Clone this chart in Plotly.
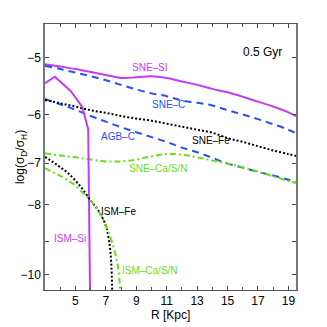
import math

import plotly.graph_objects as go

# values: R [Kpc] and log(sigma_D/sigma_H)
R_FULL = [3, 4, 5, 6, 7, 8, 9, 10, 11, 12, 13, 14, 15, 16, 17, 18, 19, 19.5]
SNE_SI = [-5.10, -5.14, -5.18, -5.23, -5.28, -5.33, -5.32, -5.30, -5.33, -5.39,
          -5.45, -5.52, -5.58, -5.66, -5.75, -5.84, -5.95, -6.02]
SNE_C = [-5.13, -5.18, -5.24, -5.30, -5.37, -5.45, -5.53, -5.60, -5.65, -5.73,
         -5.77, -5.82, -5.91, -5.99, -6.08, -6.18, -6.29, -6.36]
AGB_C = [-5.70, -5.80, -5.90, -6.02, -6.13, -6.24, -6.34, -6.44, -6.54, -6.66,
         -6.76, -6.88, -7.01, -7.10, -7.20, -7.28, -7.38, -7.43]
SNE_FE = [-5.72, -5.78, -5.84, -5.91, -5.96, -6.02, -6.07, -6.11, -6.17, -6.23,
          -6.29, -6.35, -6.46, -6.54, -6.63, -6.72, -6.80, -6.84]
SNE_CA = [-6.78, -6.83, -6.87, -6.92, -6.96, -6.96, -6.92, -6.85, -6.80, -6.81,
          -6.87, -6.94, -7.01, -7.09, -7.19, -7.30, -7.41, -7.46]

R_ISM_SI = [3, 3.65, 4.7, 5.45, 5.84, 5.89, 5.93, 5.97]
ISM_SI = [-5.42, -5.31, -5.56, -5.85, -6.28, -7.5, -9.0, -11.0]

R_ISM_FE = [3, 3.5, 4, 4.5, 5, 5.5, 6, 6.5, 7, 7.25, 7.35, 7.42]
ISM_FE = [-6.86, -6.97, -7.09, -7.22, -7.40, -7.62, -7.89, -8.14, -8.55, -9.1, -9.6, -10.6]

R_ISM_CA = [3, 3.5, 4, 4.5, 5, 5.5, 6, 6.5, 7, 7.5, 7.8, 7.95]
ISM_CA = [-7.11, -7.20, -7.29, -7.39, -7.52, -7.70, -7.89, -8.15, -8.55, -9.15, -9.75, -10.6]

Y_TICKS = [-5, -6, -7, -8, -9, -10]
Y_TICK_TEXT = ["\u22125", "\u22126", "\u22127", "\u22128", "", "\u221210"]
X_TICKS = [5, 7, 9, 11, 13, 15, 17, 19]

MAGENTA = "#c43cf2"
BLUE = "#2850f5"
GREEN = "#6ade14"
BLACK = "#000000"


def neg(vals):
    # the y axis is logarithmic in -log(sigma_D/sigma_H)
    return [-v for v in vals]


fig = go.Figure()

series = [
    (R_FULL, SNE_SI, MAGENTA, "solid", "spline"),
    (R_FULL, SNE_C, BLUE, "7px,5px", "spline"),
    (R_FULL, AGB_C, BLUE, "7px,5px", "spline"),
    (R_FULL, SNE_FE, BLACK, "2px,2px", "spline"),
    (R_FULL, SNE_CA, GREEN, "6px,3px,2px,3px", "spline"),
    (R_ISM_SI, ISM_SI, MAGENTA, "solid", "linear"),
    (R_ISM_FE, ISM_FE, BLACK, "2px,2px", "spline"),
    (R_ISM_CA, ISM_CA, GREEN, "6px,3px,2px,3px", "spline"),
]
for xs, ys, color, dash, shape in series:
    fig.add_trace(go.Scatter(
        x=xs, y=neg(ys), mode="lines",
        line=dict(color=color, width=2, dash=dash, shape=shape),
        showlegend=False,
    ))

labels = [
    ("0.5 Gyr", 17.3, -4.91, BLACK, 12),
    ("SNE\u2013SI", 9.9, -5.16, MAGENTA, 10),
    ("SNE\u2013C", 11.1, -5.81, BLUE, 10),
    ("AGB\u2013C", 7.8, -6.42, BLUE, 10),
    ("SNE\u2013Fe", 13.9, -6.52, BLACK, 10),
    ("SNE\u2013Ca/S/N", 10.4, -7.11, GREEN, 10),
    ("ISM\u2013Fe", 7.8, -8.18, BLACK, 10),
    ("ISM\u2013Si", 4.65, -8.92, MAGENTA, 10),
    ("ISM\u2013Ca/S/N", 9.9, -9.88, GREEN, 10),
]
annotations = [
    dict(text=t, x=x, y=math.log10(-y), xref="x", yref="y", showarrow=False,
         font=dict(color=c, size=s))
    for t, x, y, c, s in labels
]
# axis titles
annotations.append(dict(text="R [Kpc]", x=0.5, y=-0.06, xref="paper", yref="paper",
                        yanchor="top", showarrow=False, font=dict(size=12)))
annotations.append(dict(text="log(\u03c3<sub>D</sub>/\u03c3<sub>H</sub>)", x=-0.135, y=0.5,
                        xref="paper", yref="paper", textangle=-90, showarrow=False,
                        font=dict(size=12)))
# clipped label peeking in at the bottom edge
annotations.append(dict(text="ISM\u2013Ca/S/N", x=0.26, y=-0.13, xref="paper", yref="paper",
                        yanchor="top", showarrow=False, font=dict(color=GREEN, size=10)))

fig.update_layout(
    width=327, height=327,
    margin=dict(l=45, r=31, t=24, b=37),
    plot_bgcolor="white", paper_bgcolor="white",
    font=dict(family="Liberation Sans, Arial, sans-serif", color="black", size=12),
    annotations=annotations,
    xaxis=dict(
        range=[3, 19.5], tickvals=X_TICKS, ticks="inside", ticklen=4,
        showgrid=False, zeroline=False, showline=True, linecolor="#555", linewidth=1,
        mirror="ticks", automargin=False,
        minor=dict(dtick=1, ticks="inside", ticklen=3, tickcolor="#555"),
        tickfont=dict(size=12),
    ),
    yaxis=dict(
        type="log", range=[math.log10(10.5), math.log10(4.486)],
        tickvals=neg(Y_TICKS), ticktext=Y_TICK_TEXT, ticks="inside", ticklen=4,
        showgrid=False, zeroline=False, showline=True, linecolor="#777", linewidth=1.5,
        mirror="ticks", automargin=False,
        tickfont=dict(size=12),
    ),
)

fig.write_html("out.html", config={"displayModeBar": False},
               post_script="document.body.style.margin='0';")
